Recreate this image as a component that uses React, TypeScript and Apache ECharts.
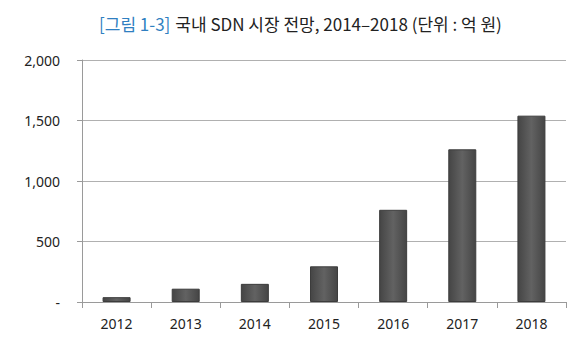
import React, { useEffect, useRef } from "react";
import * as echarts from "echarts";

const categories = ["2012", "2013", "2014", "2015", "2016", "2017", "2018"];
const values = [40, 110, 150, 295, 762, 1262, 1540];
const yTicks = [0, 500, 1000, 1500, 2000];

export default function App() {
  const ref = useRef<HTMLDivElement>(null);
  useEffect(() => {
    if (!ref.current) return;
    const chart = echarts.init(ref.current, undefined, { renderer: "svg" });
    const fmt = (v: number) => (v === 0 ? "-" : v.toLocaleString("en-US"));
    chart.setOption({
      animation: false,
      backgroundColor: "#ffffff",
      title: {
        text: "{b|[그림 1-3]} {d|국내 SDN 시장 전망, 2014–2018 (단위 : 억 원)}",
        left: 94,
        top: 9,
        textStyle: {
          fontWeight: "normal",
          rich: {
            b: { color: "#2f7fc1", fontSize: 17, fontWeight: "normal", fontFamily: "Noto Sans CJK KR" },
            d: { color: "#222222", fontSize: 17, fontWeight: "normal", fontFamily: "Noto Sans CJK KR" },
          },
        },
      },
      grid: { left: 82, right: 9, top: 60, bottom: 52 },
      xAxis: {
        type: "category",
        data: categories,
        axisLine: { show: true, lineStyle: { color: "#9a9a9a", width: 1 } },
        axisTick: { show: true, length: 6, lineStyle: { color: "#9a9a9a" } },
        axisLabel: { color: "#222", fontSize: 14, fontFamily: "Noto Sans", margin: 14 },
      },
      yAxis: {
        type: "value",
        min: 0,
        max: 2000,
        interval: 500,
        axisLine: { show: true, lineStyle: { color: "#9a9a9a", width: 1 } },
        axisTick: { show: true, length: 5, lineStyle: { color: "#9a9a9a" } },
        splitLine: { show: true, lineStyle: { color: "#b0b0b0", width: 1 } },
        axisLabel: {
          color: "#222",
          fontSize: 14,
          fontFamily: "Noto Sans",
          margin: 22,
          formatter: (v: number) => (yTicks.includes(v) ? fmt(v) : ""),
        },
      },
      series: [
        {
          type: "bar",
          data: values,
          barWidth: 28,
          itemStyle: {
            color: new echarts.graphic.LinearGradient(0, 0, 1, 0, [
              { offset: 0, color: "#454545" },
              { offset: 0.5, color: "#626262" },
              { offset: 1, color: "#454545" },
            ]),
            borderColor: "#3c3c3c",
            borderWidth: 1,
          },
        },
      ],
    });
    return () => chart.dispose();
  }, []);
  return <div ref={ref} style={{ width: 575, height: 354, margin: -8 }} />;
}
